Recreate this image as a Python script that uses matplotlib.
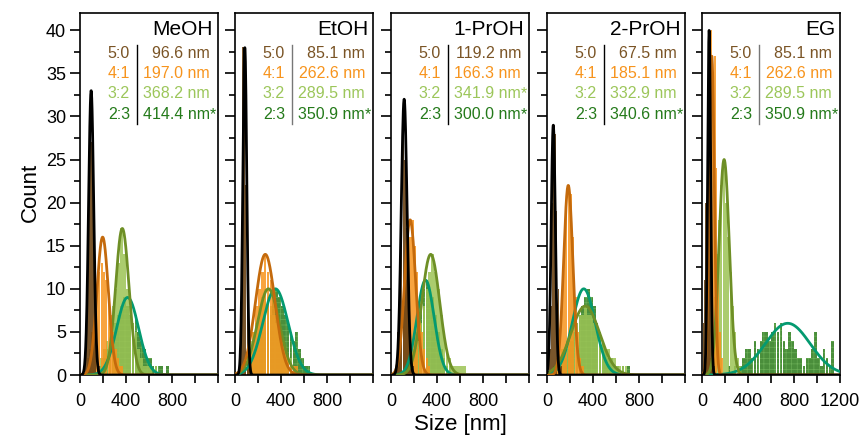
import matplotlib

matplotlib.use("Agg")
import matplotlib.pyplot as plt  # noqa: E402
import numpy as np  # noqa: E402
from matplotlib.ticker import FuncFormatter, MultipleLocator  # noqa: E402

plt.rcParams["font.family"] = ["Liberation Sans", "DejaVu Sans"]
plt.rcParams["hatch.linewidth"] = 0.5

SOLVENTS = ["MeOH", "EtOH", "1-PrOH", "2-PrOH", "EG"]
RATIOS = ["5:0", "4:1", "3:2", "2:3"]

# mean sizes printed in each panel (rows follow RATIOS)
MEAN_SIZES = [
    ["96.6", "197.0", "368.2", "414.4"],
    ["85.1", "262.6", "289.5", "350.9"],
    ["119.2", "166.3", "341.9", "300.0"],
    ["67.5", "185.1", "332.9", "340.6"],
    ["85.1", "262.6", "289.5", "350.9"],
]
STARRED = [
    [False, False, False, True],
    [False, False, False, True],
    [False, False, True, True],
    [False, False, False, True],
    [False, False, False, True],
]

# histograms: (first bin edge [nm], bin width [nm], counts), one per ratio
MEOH_HIST = [
    (40, 15, [2, 9, 22, 33, 27, 15, 7, 3, 1]),
    (60, 20, [2, 3, 5, 8, 10, 12, 13, 12, 11, 9, 7, 5, 3, 2, 1, 1]),
    (150, 25, [1, 2, 3, 4, 6, 8, 10, 13, 17, 14, 10, 8, 6, 5, 3, 2, 1, 1, 1, 0, 1]),
    (150, 25, [1, 1, 2, 3, 5, 5, 6, 7, 8, 9, 8, 7, 6, 7, 5, 4, 3, 2, 2, 1, 1, 1, 1, 0, 1]),
]
ETOH_HIST = [
    (40, 12, [3, 12, 38, 30, 22, 10, 3, 1]),
    (75, 25, [1, 2, 3, 5, 8, 10, 12, 14, 12, 11, 9, 7, 5, 4, 3, 2, 1, 1, 1]),
    (50, 25, [1, 2, 3, 4, 5, 6, 8, 9, 10, 9, 8, 7, 6, 5, 4, 3, 2, 2, 1]),
    (100, 25, [1, 2, 3, 3, 5, 5, 6, 8, 7, 9, 10, 9, 8, 7, 6, 5, 4, 5, 3, 2, 1, 1]),
]
PROH1_HIST = [
    (40, 15, [2, 5, 10, 20, 32, 25, 17, 9, 4, 2, 1]),
    (40, 20, [1, 3, 5, 8, 11, 14, 16, 18, 15, 12, 8, 5, 3, 2, 1]),
    (150, 25, [1, 2, 3, 4, 6, 8, 10, 12, 14, 12, 10, 7, 5, 3, 2, 1, 1, 1, 1, 1]),
    (125, 25, [1, 2, 3, 5, 6, 8, 10, 11, 10, 9, 7, 5, 3, 2, 1, 1]),
]
PROH2_HIST = [
    (20, 12, [3, 8, 20, 29, 28, 19, 10, 4, 1]),
    (80, 20, [2, 4, 8, 14, 19, 22, 21, 16, 9, 5, 2, 1]),
    (50, 25, [1, 1, 2, 3, 3, 4, 5, 6, 6, 7, 7, 8, 7, 7, 6, 5, 5, 4, 3, 3, 2, 2, 1, 1, 1, 1]),
    (100, 25, [1, 2, 2, 3, 4, 5, 6, 7, 8, 9, 10, 9, 8, 6, 5, 4, 3, 2, 2, 1, 1, 0, 1, 0, 1]),
]
EG_HIST = [
    (10, 10, [6, 11, 20, 33, 40, 36, 24, 12, 4, 1]),
    (30, 15, [5, 14, 28, 40, 33, 37, 24, 12, 5, 2]),
    (60, 20, [2, 5, 9, 14, 18, 22, 25, 20, 16, 12, 8, 5, 2, 1]),
    (225, 25, [1, 0, 1, 0, 1, 2, 3, 3, 2, 4, 3, 4, 5, 5, 4, 5, 6, 5, 6,
               4, 3, 5, 4, 3, 2, 2, 1, 2, 2, 3, 5, 2, 1, 3, 2, 1, 4]),
]
HISTS = [MEOH_HIST, ETOH_HIST, PROH1_HIST, PROH2_HIST, EG_HIST]

# gaussian fits: (amplitude, centre [nm], sigma [nm])
FITS = [
    [(33, 97, 22), (16, 197, 50), (17, 368, 58), (9, 414, 95)],
    [(38, 85, 17), (14, 263, 85), (10, 290, 95), (10, 351, 110)],
    [(32, 114, 25), (18, 166, 48), (14, 345, 78), (11, 300, 75)],
    [(29, 55, 18), (22, 185, 40), (8, 333, 125), (10, 320, 100)],
    [(40, 62, 13), (37, 85, 22), (25, 192, 45), (6, 745, 195)],
]

BAR_COLORS = ["#6a4315", "#f7941d", "#9cc455", "#2a7a18"]
CURVE_COLORS = ["black", "#c46a0c", "#6e8f26", "#049a70"]
TEXT_COLORS = ["#7a5425", "#f7941d", "#9cc65a", "#247a1a"]
DIVIDER_COLORS = ["black", "#777777", "black", "black", "#777777"]


def gauss(x, a, mu, sig):
    return a * np.exp(-0.5 * ((x - mu) / sig) ** 2)


fig = plt.figure(figsize=(8.6, 4.38), dpi=100)
lefts = [0.0930, 0.2733, 0.4547, 0.6360, 0.8163]
xs = np.linspace(0, 1200, 800)

for p, solvent in enumerate(SOLVENTS):
    ax = fig.add_axes([lefts[p], 0.1438, 0.1605, 0.8265])

    # bars: largest particles first so the narrow peaks stay on top
    for r in [3, 2, 1, 0]:
        start, width, counts = HISTS[p][r]
        edges = start + width * np.arange(len(counts))
        if r == 3:
            ax.bar(edges, counts, width=width * 0.9, align="edge", color=BAR_COLORS[r],
                   alpha=0.85, edgecolor="#6fb35a", linewidth=0, hatch="+++", zorder=2)
        else:
            ax.bar(edges, counts, width=width * 0.9, align="edge", color=BAR_COLORS[r],
                   alpha=0.9 if r == 0 else 0.85, linewidth=0, zorder=2)

    for r in [3, 2, 1, 0]:
        a, mu, sig = FITS[p][r]
        ax.plot(xs, gauss(xs, a, mu, sig), color=CURVE_COLORS[r], lw=2.0, zorder=3)

    ax.set_xlim(0, 1200)
    ax.set_ylim(0, 42)
    ax.xaxis.set_major_locator(MultipleLocator(200))
    shown = [0, 400, 800, 1200] if p == 4 else [0, 400, 800]
    ax.xaxis.set_major_formatter(
        FuncFormatter(lambda v, pos, shown=shown: f"{v:.0f}" if round(v) in shown else ""))
    ax.yaxis.set_major_locator(MultipleLocator(5))
    ax.yaxis.set_minor_locator(MultipleLocator(2.5))
    ax.tick_params(axis="both", direction="out", labelsize=13, width=1.2)
    ax.tick_params(axis="y", which="major", length=7, pad=3)
    ax.tick_params(axis="y", which="minor", length=4, width=1.2)
    ax.tick_params(axis="x", length=6, pad=7)
    if p > 0:
        ax.tick_params(axis="y", labelleft=False)
    for s in ax.spines.values():
        s.set_linewidth(1.2)

    ax.text(0.965, 0.939, solvent, transform=ax.transAxes, ha="right",
            va="baseline", fontsize=15)
    rows_y = [0.877, 0.820, 0.764, 0.707]
    for r, ratio in enumerate(RATIOS):
        ax.text(0.362, rows_y[r], ratio, transform=ax.transAxes, ha="right",
                va="baseline", fontsize=11.5, color=TEXT_COLORS[r])
        ax.text(0.942, rows_y[r], MEAN_SIZES[p][r] + " nm", transform=ax.transAxes,
                ha="right", va="baseline", fontsize=11.5, color=TEXT_COLORS[r])
        if STARRED[p][r]:
            ax.text(0.942, rows_y[r], "*", transform=ax.transAxes, ha="left",
                    va="baseline", fontsize=11.5, color=TEXT_COLORS[r])
    ax.plot([0.413, 0.413], [0.693, 0.912], transform=ax.transAxes,
            color=DIVIDER_COLORS[p], lw=1.0)

fig.text(0.535, 0.03, "Size [nm]", ha="center", va="center", fontsize=16)
fig.text(0.035, 0.56, "Count", ha="center", va="center", rotation=90, fontsize=16)

fig.savefig("out.png", dpi=100)
